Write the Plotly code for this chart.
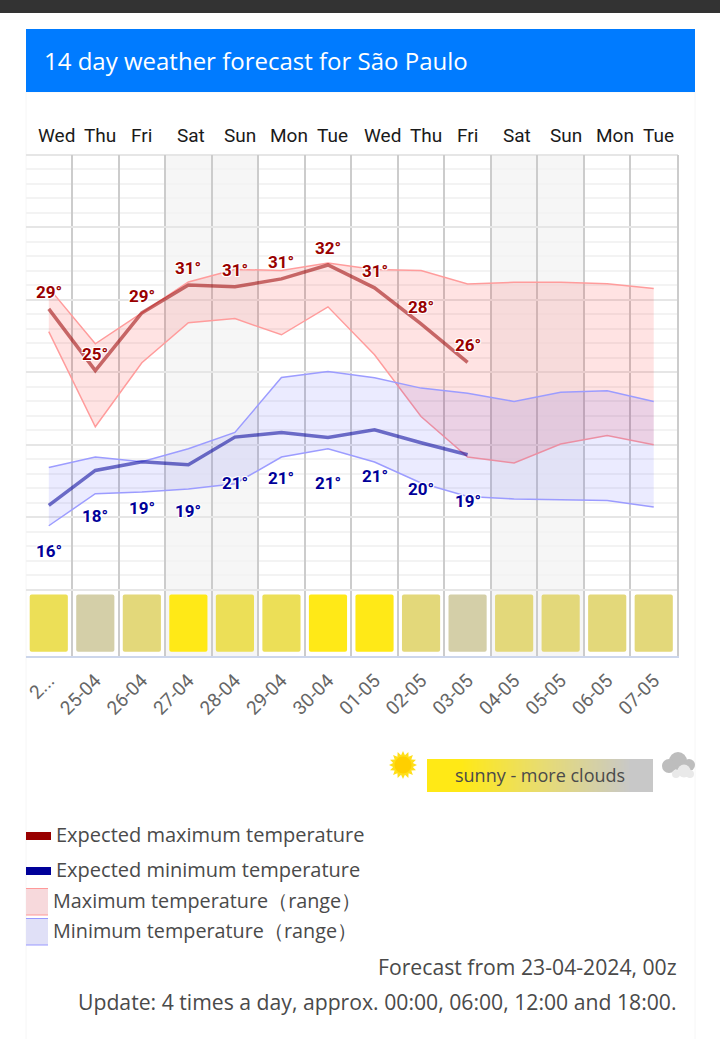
"""14 day weather forecast chart rendered with Plotly."""

import math

import pandas as pd
import plotly.graph_objects as go

WIDTH = 720
HEIGHT = 1039

# One row per day, all temperatures in degrees C
forecast_data = {
    "date": ["24-04", "25-04", "26-04", "27-04", "28-04", "29-04", "30-04",
             "01-05", "02-05", "03-05", "04-05", "05-05", "06-05", "07-05"],
    "weekday": ["Wed", "Thu", "Fri", "Sat", "Sun", "Mon", "Tue",
                "Wed", "Thu", "Fri", "Sat", "Sun", "Mon", "Tue"],
    "max_expected": [29.38, 25.12, 29.10, 31.03, 30.90, 31.45, 32.41,
                     30.83, 28.34, 25.68, None, None, None, None],
    "max_high": [30.83, 26.97, 29.10, 31.24, 32.10, 32.03, 32.55,
                 32.10, 32.02, 31.10, 31.21, 31.21, 31.12, 30.78],
    "max_low": [27.81, 21.24, 25.66, 28.43, 28.71, 27.59, 29.52,
                26.21, 21.95, 19.15, 18.74, 20.05, 20.64, 20.00],
    "min_expected": [15.81, 18.23, 18.83, 18.62, 20.53, 20.85, 20.51,
                     21.03, 20.14, 19.31, None, None, None, None],
    "min_high": [18.43, 19.15, 18.83, 19.72, 20.85, 24.64, 25.06,
                 24.62, 23.91, 23.55, 22.99, 23.63, 23.72, 22.99],
    "min_low": [14.41, 16.62, 16.74, 16.94, 17.31, 19.15, 19.72,
                18.81, 17.36, 16.43, 16.26, 16.23, 16.16, 15.70],
    "sky": ["#ecdf57", "#d4cfa8", "#e3d87a", "#ffe917", "#ecdf57", "#ecdf57", "#ffe917",
            "#ffe917", "#e3d87a", "#d4cfa8", "#e3d87a", "#e3d87a", "#e3d87a", "#e3d87a"],
}

MAX_LABEL = dict(family="Roboto, sans-serif", size=17, color="#990000", weight=700,
                 shadow="1px 1px 0 #fff, -1px -1px 0 #fff, 1px -1px 0 #fff, -1px 1px 0 #fff")
MIN_LABEL = dict(MAX_LABEL, color="#000099")
BODY_FONT = "Open Sans, sans-serif"


def _px(x: float) -> float:
    """Convert a window x position to paper coordinates."""
    return x / WIDTH


def _py(y: float) -> float:
    """Convert a window y position to paper coordinates."""
    return 1 - y / HEIGHT


def _rect(x0, y0, x1, y1, fill, line=None, layer="above"):
    """Build a rectangle given in window pixels."""
    return dict(
        type="rect", xref="paper", yref="paper", layer=layer,
        x0=_px(x0), x1=_px(x1), y0=_py(y0), y1=_py(y1),
        fillcolor=fill, line=dict(width=1 if line else 0, color=line or fill),
    )


def _circle(cx, cy, r, fill):
    """Build a circle given in window pixels."""
    return dict(
        type="circle", xref="paper", yref="paper",
        x0=_px(cx - r), x1=_px(cx + r), y0=_py(cy + r), y1=_py(cy - r),
        fillcolor=fill, line=dict(width=0),
    )


def _sun_path(cx, cy, outer, inner, rays=16):
    """Build the spiky outline of the sun icon."""
    points = []
    for i in range(rays * 2):
        r = outer if i % 2 == 0 else inner
        a = math.pi * i / rays
        points.append(f"{_px(cx + r * math.cos(a))} {_py(cy + r * math.sin(a))}")
    return "M " + " L ".join(points) + " Z"


def _text(x, y, text, size=20, color="#4a4a4a", anchor="left", family=BODY_FONT):
    """Build a text annotation placed in window pixels."""
    return dict(
        x=_px(x), y=_py(y), xref="paper", yref="paper", text=text, showarrow=False,
        xanchor=anchor, yanchor="middle", font=dict(family=family, size=size, color=color),
    )


def _generate_chart(data: dict) -> go.Figure:
    """
    Generate the forecast chart.

    Args:
        data: Dict of columns, one row per day

    Returns:
        Plotly figure
    """
    df = pd.DataFrame(data)

    fig = go.Figure()

    # Coloured sky blocks along the bottom
    fig.add_trace(go.Bar(
        x=df["date"], y=[3.94] * len(df), base=5.72, width=0.82,
        marker=dict(color=df["sky"], cornerradius=2, line=dict(width=0)),
    ))

    # Ranges
    fig.add_trace(go.Scatter(
        x=df["date"], y=df["max_low"], mode="lines",
        line=dict(color="#ff9c9c", width=1.5),
    ))
    fig.add_trace(go.Scatter(
        x=df["date"], y=df["max_high"], mode="lines", fill="tonexty",
        fillcolor="rgba(255,0,0,0.11)", line=dict(color="#ff9c9c", width=1.5),
    ))
    fig.add_trace(go.Scatter(
        x=df["date"], y=df["min_low"], mode="lines",
        line=dict(color="#9c9cff", width=1.5),
    ))
    fig.add_trace(go.Scatter(
        x=df["date"], y=df["min_high"], mode="lines", fill="tonexty",
        fillcolor="rgba(0,0,255,0.08)", line=dict(color="#9c9cff", width=1.5),
    ))

    # Expected values
    fig.add_trace(go.Scatter(
        x=df["date"], y=df["max_expected"], mode="lines",
        line=dict(color="rgba(153,0,0,0.55)", width=3.5),
    ))
    fig.add_trace(go.Scatter(
        x=df["date"], y=df["min_expected"], mode="lines",
        line=dict(color="rgba(0,0,153,0.55)", width=3.5),
    ))

    # Gradient for the sky key
    fig.add_trace(go.Heatmap(
        z=[[0, 1]], x=[0, 1], y=[0], zsmooth="best", showscale=False, xaxis="x2", yaxis="y2",
        colorscale=[[0, "#ffe916"], [0.15, "#ffe916"], [0.5, "#e8dc70"], [0.9, "#c8c8c8"], [1, "#c8c8c8"]],
    ))

    annotations = []

    # Day names sit left aligned over their column
    for date, weekday in zip(df["date"], df["weekday"]):
        annotations.append(dict(
            x=date, y=_py(136), xref="x", yref="paper", text=weekday, showarrow=False,
            xanchor="left", yanchor="middle", xshift=-13,
            font=dict(family="Roboto, sans-serif", size=19, color="#1a1a1a"),
        ))

    # Temperature labels
    for row in df.dropna(subset=["max_expected"]).itertuples():
        annotations.append(dict(
            x=row.date, y=row.max_expected, text=f"{round(row.max_expected)}°", showarrow=False,
            yshift=17, font=MAX_LABEL,
        ))
        annotations.append(dict(
            x=row.date, y=row.min_expected, text=f"{round(row.min_expected)}°", showarrow=False,
            yshift=-46, font=MIN_LABEL,
        ))

    # Header and footer texts
    annotations += [
        _text(42, 60, "14 day weather forecast for São Paulo", size=24, color="#ffffff"),
        _text(540, 775, "sunny - more clouds", size=18, anchor="center"),
        _text(54, 834, "Expected maximum temperature"),
        _text(54, 869, "Expected minimum temperature"),
        _text(51, 900, "Maximum temperature（range）", size=19.8),
        _text(51, 930, "Minimum temperature（range）", size=19.8),
        _text(679, 966, "Forecast from 23-04-2024, 00z", size=21.2, anchor="right"),
        _text(679, 1001, "Update: 4 times a day, approx. 00:00, 06:00, 12:00 and 18:00.", size=21.2, anchor="right"),
    ]

    shapes = [
        # Page furniture
        _rect(26, 92, 695, 1045, "#ffffff", "#f6f6f6", layer="below"),
        _rect(0, 0, 720, 13, "#333333"),
        _rect(26, 29, 695, 92, "#007bff"),
        # Weekend bands
        dict(type="rect", xref="x", yref="y domain", x0=2.5, x1=4.5, y0=0, y1=1,
             fillcolor="#f6f6f6", line=dict(width=0), layer="below"),
        dict(type="rect", xref="x", yref="y domain", x0=9.5, x1=11.5, y0=0, y1=1,
             fillcolor="#f6f6f6", line=dict(width=0), layer="below"),
        # Top edge of the grid
        _rect(26, 154, 678, 156, "#e6e6e6", layer="below"),
        # Legend swatches
        _rect(26, 832, 51, 840, "#990000"),
        _rect(26, 867, 51, 875, "#000099"),
        _rect(26, 888, 48, 915, "#f7d9dc"),
        _rect(26, 918, 48, 945, "#e0e0f7"),
    ]
    for y, color in [(888, "#ff9999"), (914.5, "#ff9999"), (918, "#9999ff"), (944.5, "#9999ff")]:
        shapes.append(_rect(26, y, 48, y + 1, color))

    # Sun and cloud icons
    shapes.append(dict(
        type="path", xref="paper", yref="paper", path=_sun_path(403, 765, 14, 10),
        fillcolor="#ffdf1a", line=dict(width=0),
    ))
    shapes.append(_circle(403, 765, 8.5, "#ffcf00"))
    shapes += [
        _circle(678, 761, 9, "#bdbdbd"),
        _circle(669, 766, 7, "#bdbdbd"),
        _circle(689, 765, 6, "#bdbdbd"),
        _circle(684, 771, 6.5, "#e9e9e9"),
        _circle(676, 774, 4, "#e9e9e9"),
        _circle(690, 774, 4, "#e9e9e9"),
    ]

    ticktext = ["2..."] + list(df["date"][1:])

    # Style the chart
    fig.update_layout(
        width=WIDTH,
        height=HEIGHT,
        template="plotly_white",
        showlegend=False,
        paper_bgcolor="#ffffff",
        plot_bgcolor="rgba(0,0,0,0)",
        margin=dict(l=0, r=0, t=0, b=0),
        bargap=0.2,
        annotations=annotations,
        shapes=shapes,
        xaxis=dict(
            domain=[_px(25.5), _px(677)],
            type="category",
            range=[-0.5, 13.5],
            tickson="boundaries",
            tickmode="array",
            tickvals=list(df["date"]),
            ticktext=ticktext,
            tickangle=-45,
            ticks="",
            ticklabelstandoff=4,
            tickfont=dict(family="Roboto, sans-serif", size=19, color="#666666"),
            showgrid=True,
            gridcolor="#cccccc",
            gridwidth=2,
            showline=True,
            linecolor="#ccd6eb",
            linewidth=2,
            zeroline=False,
        ),
        yaxis=dict(
            domain=[_py(656), _py(155)],
            range=[5.42, 40],
            side="right",
            tickmode="array",
            tickvals=[10, 15, 20, 25, 30, 35, 40],
            showticklabels=False,
            ticks="",
            gridcolor="#e6e6e6",
            gridwidth=2,
            showline=True,
            linecolor="#cccccc",
            linewidth=2,
            zeroline=False,
            minor=dict(
                tickvals=[v for v in range(11, 40) if v % 5],
                showgrid=True,
                gridcolor="#f3f3f3",
                gridwidth=2,
                ticks="",
            ),
        ),
        xaxis2=dict(domain=[_px(427), _px(653)], range=[0, 1], visible=False, anchor="y2"),
        yaxis2=dict(domain=[_py(792), _py(759)], range=[-0.5, 0.5], visible=False, anchor="x2"),
    )

    return fig


fig = _generate_chart(forecast_data)
fig.write_html("out.html", config={"displayModeBar": False}, post_script="document.body.style.margin = '0';")
